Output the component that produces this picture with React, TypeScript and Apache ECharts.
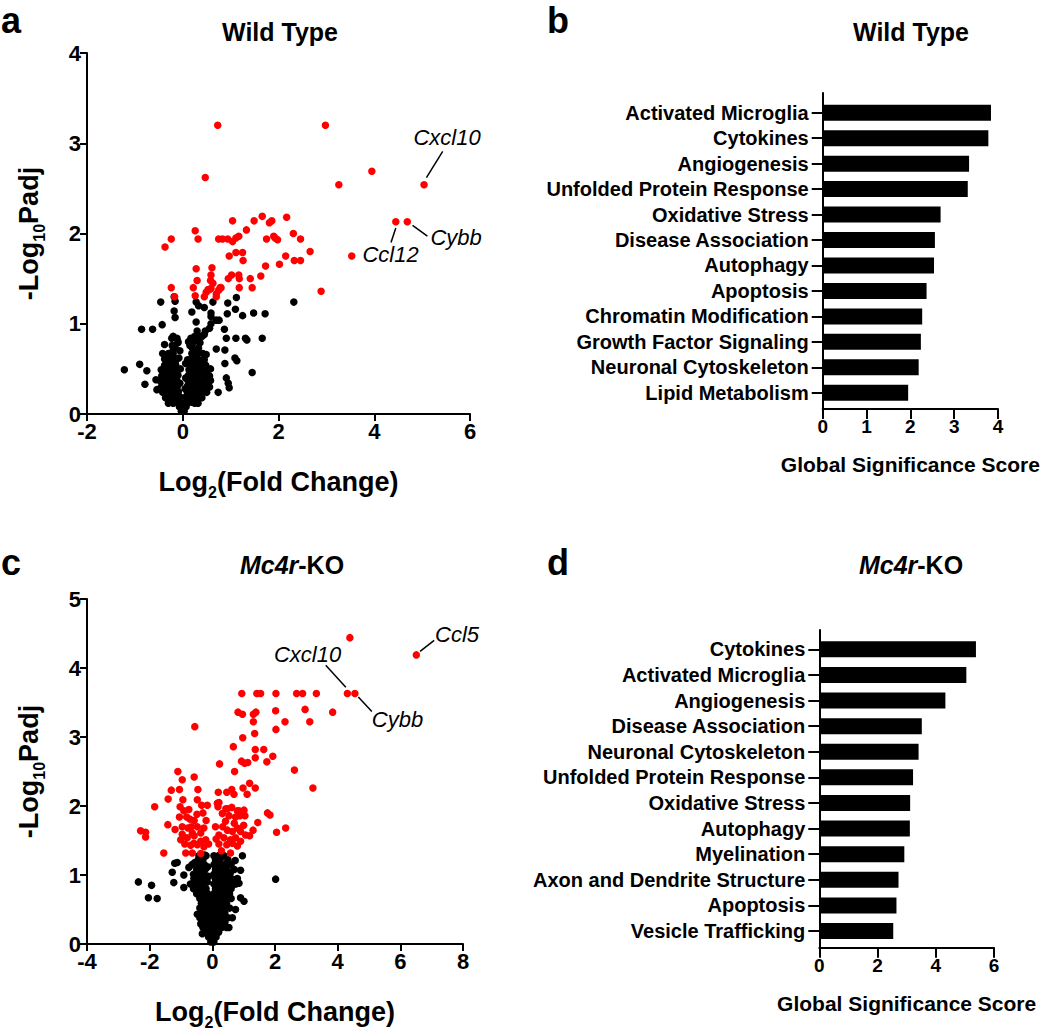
import React, { useEffect, useRef } from "react";
import * as echarts from "echarts";

const FONT = '"Liberation Sans", Arial, Helvetica, sans-serif';

// ---------- Panel a: Wild Type volcano ----------
const redA: number[][] = [
  [0.73, 3.2], [0.47, 2.62], [1.04, 2.14], [1.49, 2.14], [1.66, 2.19], [1.81, 2.12], [1.86, 2.14], [2.17, 2.18],
  [0.26, 2.03], [-0.24, 1.94], [-0.37, 1.85], [0.32, 1.94], [0.75, 1.94], [0.83, 1.94], [0.94, 1.94], [1.04, 1.91],
  [1.11, 1.95], [1.17, 1.97], [1.33, 2.04], [1.75, 1.94], [1.9, 1.97], [1.93, 1.95], [1.98, 1.93], [2.31, 2.0],
  [2.46, 1.94], [2.66, 1.8], [0.97, 1.75], [1.11, 1.79], [1.25, 1.79], [1.26, 1.7], [2.15, 1.75], [2.33, 1.7],
  [2.46, 1.7], [1.73, 1.64], [2.02, 1.66], [0.28, 1.61], [0.61, 1.62], [0.59, 1.54], [0.3, 1.48], [0.58, 1.48],
  [0.63, 1.45], [1.02, 1.54], [0.95, 1.5], [1.17, 1.54], [1.18, 1.5], [1.41, 1.5], [1.63, 1.53], [-0.24, 1.4],
  [0.22, 1.4], [0.53, 1.38], [0.59, 1.39], [0.49, 1.35], [0.8, 1.4], [0.75, 1.37], [0.7, 1.33], [1.18, 1.4],
  [1.45, 1.4], [0.26, 1.31], [0.45, 1.3], [2.89, 1.36], [-0.17, 1.3], [0.56, 1.38], [0.7, 1.3], [0.78, 1.4],
  [2.98, 3.2], [3.95, 2.69], [3.26, 2.54], [5.04, 2.54], [4.45, 2.13], [4.69, 2.13], [3.53, 1.75],
];
const blackA: number[][] = [
  [-1.22, 0.49], [-0.9, 0.55], [-0.75, 0.48], [-0.79, 0.33], [-0.86, 0.94], [-0.63, 0.94], [-0.43, 0.99], [-0.46, 1.24],
  [-0.18, 1.3], [-0.16, 1.25], [-0.18, 1.14], [-0.16, 1.07], [0.19, 1.13], [0.28, 1.24], [0.33, 1.2], [0.45, 1.18],
  [0.63, 1.24], [0.59, 1.12], [0.59, 1.08], [0.7, 1.04], [0.76, 1.04], [0.94, 1.23], [1.12, 1.29], [1.1, 1.16],
  [0.93, 1.11], [1.25, 1.09], [1.48, 1.12], [1.72, 1.11], [2.32, 1.24], [0.28, 1.02], [0.59, 1.0], [0.56, 0.95],
  [0.87, 0.94], [0.91, 0.84], [1.11, 0.84], [1.31, 0.84], [1.34, 0.82], [1.66, 0.84], [0.88, 0.71], [1.09, 0.62],
  [1.13, 0.59], [0.88, 0.56], [1.45, 0.46], [0.91, 0.4], [0.95, 0.34], [0.97, 0.29], [0.74, 0.24], [0.7, 0.72],
  [0.49, 0.66], [0.38, 0.86], [0.45, 0.88], [0.17, 0.84], [0.12, 0.8], [-0.23, 0.84], [-0.12, 0.84], [-0.1, 0.8],
  [-0.2, 0.71], [-0.38, 0.77], [-0.42, 0.67], [-0.38, 0.61], [-0.45, 0.49], [-0.56, 0.38], [-0.4, 0.38], [-0.34, 0.53],
  [-0.54, 0.27],
  // dense core
  [-0.03, 0.03], [0.03, 0.03], [-0.07, 0.08], [0.0, 0.08], [0.07, 0.08],
  [-0.12, 0.13], [-0.05, 0.13], [0.05, 0.13], [0.12, 0.13], [0.19, 0.13],
  [-0.2, 0.19], [-0.13, 0.19], [-0.06, 0.19], [0.07, 0.19], [0.14, 0.19], [0.22, 0.19],
  [-0.25, 0.25], [-0.17, 0.25], [-0.09, 0.25], [0.09, 0.25], [0.17, 0.25], [0.26, 0.25], [0.34, 0.25],
  [-0.3, 0.31], [-0.2, 0.31], [-0.11, 0.31], [0.1, 0.31], [0.2, 0.31], [0.3, 0.31], [0.4, 0.31],
  [-0.33, 0.37], [-0.22, 0.37], [-0.12, 0.37], [0.11, 0.37], [0.22, 0.37], [0.33, 0.37], [0.44, 0.37],
  [-0.3, 0.43], [-0.2, 0.43], [-0.1, 0.43], [0.12, 0.43], [0.23, 0.43], [0.34, 0.43], [0.46, 0.43],
  [-0.28, 0.49], [-0.18, 0.49], [0.13, 0.49], [0.25, 0.49], [0.37, 0.49],
  [-0.26, 0.55], [-0.15, 0.55], [0.15, 0.55], [0.27, 0.55], [0.4, 0.55],
  [-0.24, 0.61], [-0.13, 0.61], [0.17, 0.61], [0.29, 0.61],
  [-0.3, 0.67], [-0.2, 0.67], [0.19, 0.67], [0.31, 0.67], [0.42, 0.67],
  [-0.16, 0.73], [0.2, 0.73], [0.33, 0.73],
  [-0.1, 0.79], [0.22, 0.79], [0.36, 0.79],
  [-0.2, 0.86], [0.25, 0.86], [0.4, 0.86],
  [0.3, 0.92], [0.47, 0.92],
  [-0.16, 0.16], [0.1, 0.22], [-0.22, 0.28], [0.05, 0.28], [0.28, 0.28], [-0.16, 0.34], [0.16, 0.34], [0.36, 0.34],
  [-0.26, 0.4], [0.06, 0.4], [0.28, 0.4], [-0.14, 0.46], [0.18, 0.46], [0.42, 0.46], [-0.22, 0.52], [0.2, 0.52],
  [0.32, 0.52], [-0.18, 0.58], [0.22, 0.58], [0.34, 0.6], [-0.26, 0.64], [0.24, 0.64], [-0.22, 0.76], [0.28, 0.7],
  [0.15, 0.76], [0.3, 0.82], [-0.06, 0.7], [0.1, 0.6],
  [-0.3, 0.12], [-0.2, 0.12], [0.25, 0.12], [0.32, 0.12],
  [-0.36, 0.18], [-0.28, 0.18], [0.3, 0.18], [0.4, 0.18],
  [-0.42, 0.24], [-0.34, 0.24], [0.42, 0.24], [0.5, 0.24],
  [-0.45, 0.3], [-0.38, 0.3], [0.48, 0.3], [0.56, 0.3],
  [-0.46, 0.36], [-0.4, 0.35], [0.52, 0.36], [0.58, 0.37],
  [-0.44, 0.42], [-0.37, 0.44], [0.56, 0.42],
  [-0.42, 0.48], [0.5, 0.48], [0.58, 0.5],
  [-0.38, 0.54], [0.48, 0.54], [-0.34, 0.6], [0.45, 0.6],
  [-0.06, 0.34], [-0.05, 0.5], [0.06, 0.56], [-0.08, 0.62],
];
const annoLabelsA = [
  { name: "Cxcl10", value: [5.52, 3.06] },
  { name: "Ccl12", value: [4.34, 1.77] },
  { name: "Cybb", value: [5.71, 1.96] },
];
const annoLinesA: number[][][] = [
  [[5.43, 2.91], [5.09, 2.62]],
  [[4.45, 2.06], [4.35, 1.9]],
  [[4.8, 2.09], [5.11, 1.97]],
];

// ---------- Panel c: Mc4r-KO volcano ----------
const redC: number[][] = [
  [4.39, 4.44], [6.51, 4.19], [4.31, 3.63], [4.55, 3.63],
  [0.94, 3.63], [1.42, 3.63], [1.54, 3.63], [2.03, 3.63], [2.69, 3.63], [2.88, 3.63], [3.32, 3.63],
  [0.82, 3.36], [0.96, 3.33], [1.31, 3.33], [1.39, 3.36], [1.31, 3.22], [2.02, 3.38], [2.32, 3.22], [2.03, 3.11],
  [2.96, 3.4], [3.11, 3.22], [3.84, 3.36], [-0.56, 3.15], [1.35, 3.05], [0.97, 2.99], [0.67, 2.86], [1.37, 2.82],
  [1.64, 2.82], [1.37, 2.7], [1.93, 2.72], [1.74, 2.64], [0.93, 2.65], [1.03, 2.62], [1.13, 2.63], [0.23, 2.61],
  [0.71, 2.5], [2.62, 2.52], [-1.1, 2.5], [-0.96, 2.38], [-0.58, 2.42], [-1.31, 2.23], [-1.05, 2.24], [-0.46, 2.24],
  [-1.41, 2.1], [-0.94, 2.09], [-0.48, 2.09], [0.19, 2.2], [0.46, 2.2], [0.62, 2.24], [0.69, 2.17], [0.98, 2.26],
  [1.19, 2.33], [1.37, 2.26], [1.11, 2.17], [3.21, 2.26], [-1.84, 1.99], [-1.03, 1.99], [-0.91, 1.93], [-0.34, 2.01],
  [-0.16, 2.01], [0.21, 2.05], [0.18, 1.99], [0.48, 1.96], [0.62, 1.98], [0.85, 1.93], [1.01, 1.94], [1.76, 1.9],
  [1.84, 1.87], [2.05, 1.62], [2.34, 1.68],
  [-2.29, 1.64], [-2.13, 1.62], [-2.13, 1.55], [-1.55, 1.32], [-1.42, 1.73], [-1.19, 1.66],
  [-1.05, 1.84], [-0.82, 1.84], [-0.72, 1.81], [-0.49, 1.88], [-0.58, 1.79], [-0.75, 1.95], [-0.3, 1.9],
  [-0.96, 1.7], [-0.78, 1.68], [-0.67, 1.7], [-0.64, 1.61], [-0.96, 1.59], [-0.48, 1.7], [-0.37, 1.61], [-0.27, 1.68], [-0.2, 1.79],
  [-1.01, 1.51], [-0.8, 1.54], [-0.59, 1.46], [-0.37, 1.49], [-0.21, 1.51], [-0.88, 1.45], [-0.69, 1.43], [-0.48, 1.44], [-0.27, 1.41],
  [-0.85, 1.32], [-0.64, 1.32], [-0.37, 1.31], [-0.58, 1.57], [-0.12, 1.45],
  [0.16, 2.04], [0.43, 1.96], [0.8, 1.93], [1.04, 1.86], [0.32, 1.89], [0.53, 1.86], [0.74, 1.84], [0.88, 1.86],
  [1.45, 1.76], [0.33, 1.7], [0.48, 1.65], [0.64, 1.63], [0.8, 1.68], [0.9, 1.63], [1.06, 1.58], [1.19, 1.57],
  [0.21, 1.58], [0.37, 1.54], [0.58, 1.51], [0.74, 1.54], [0.9, 1.49], [0.21, 1.45], [0.46, 1.44], [0.64, 1.46], [0.8, 1.42],
  [0.29, 1.35], [0.58, 1.32], [0.1, 1.7], [0.12, 1.52], [1.0, 1.72], [0.42, 1.78], [0.7, 1.75], [1.3, 1.65],
];
const blackC: number[][] = [
  [-2.36, 0.9], [-1.94, 0.85], [-2.04, 0.67], [-1.76, 0.66], [2.02, 0.94],
  [-1.2, 1.17], [-1.12, 1.18], [-1.28, 1.04], [-1.23, 0.89], [-0.91, 0.82], [-0.91, 1.0], [-0.75, 1.11], [-0.56, 1.18],
  [-0.43, 1.28], [-0.59, 0.95], [-0.37, 0.9], [-0.53, 0.85], [-0.24, 1.29], [-0.21, 1.09], [-0.16, 0.9],
  [-0.37, 0.76], [-0.32, 0.62], [-0.48, 0.43], [-0.37, 0.29], [-0.32, 0.15],
  [0.21, 1.28], [0.37, 1.28], [0.48, 1.18], [0.73, 1.21], [0.96, 1.28], [0.9, 1.07], [0.8, 0.95], [0.85, 0.88],
  [0.58, 1.04], [0.64, 0.85], [0.9, 0.67], [1.01, 0.62], [0.74, 0.5], [0.64, 0.38], [0.53, 0.24],
  // dense core
  [-0.05, 0.03], [0.05, 0.03], [-0.12, 0.1], [0.0, 0.1], [0.12, 0.1],
  [-0.2, 0.17], [-0.07, 0.17], [0.07, 0.17], [0.2, 0.17],
  [-0.3, 0.24], [-0.15, 0.24], [0.0, 0.24], [0.15, 0.24], [0.3, 0.24], [0.45, 0.24],
  [-0.35, 0.31], [-0.2, 0.31], [-0.05, 0.31], [0.1, 0.31], [0.25, 0.31], [0.4, 0.31],
  [-0.4, 0.38], [-0.25, 0.38], [-0.1, 0.38], [0.05, 0.38], [0.2, 0.38], [0.35, 0.38], [0.5, 0.38],
  [-0.35, 0.45], [-0.2, 0.45], [-0.05, 0.45], [0.1, 0.45], [0.25, 0.45], [0.4, 0.45],
  [-0.4, 0.52], [-0.25, 0.52], [-0.1, 0.52], [0.05, 0.52], [0.2, 0.52], [0.35, 0.52], [0.55, 0.52],
  [-0.35, 0.59], [-0.2, 0.59], [-0.05, 0.59], [0.1, 0.59], [0.25, 0.59], [0.45, 0.59],
  [-0.4, 0.66], [-0.25, 0.66], [-0.1, 0.66], [0.1, 0.66], [0.25, 0.66], [0.4, 0.66], [0.6, 0.66],
  [-0.5, 0.73], [-0.3, 0.73], [-0.15, 0.73], [0.05, 0.73], [0.2, 0.73], [0.35, 0.73], [0.55, 0.73],
  [-0.6, 0.8], [-0.4, 0.8], [-0.2, 0.8], [0.1, 0.8], [0.25, 0.8], [0.4, 0.8], [0.6, 0.8],
  [-0.7, 0.87], [-0.45, 0.87], [-0.3, 0.87], [0.05, 0.87], [0.2, 0.87], [0.35, 0.87], [0.55, 0.87], [0.75, 0.87],
  [-0.55, 0.94], [-0.35, 0.94], [-0.2, 0.94], [0.1, 0.94], [0.25, 0.94], [0.45, 0.94], [0.65, 0.94],
  [-0.6, 1.01], [-0.4, 1.01], [-0.25, 1.01], [0.05, 1.01], [0.2, 1.01], [0.35, 1.01], [0.55, 1.01],
  [-0.5, 1.08], [-0.3, 1.08], [0.1, 1.08], [0.25, 1.08], [0.45, 1.08], [0.7, 1.08],
  [-0.65, 1.15], [-0.4, 1.15], [-0.25, 1.15], [0.05, 1.15], [0.2, 1.15], [0.4, 1.15], [0.6, 1.15],
  [-0.45, 1.22], [-0.3, 1.22], [0.1, 1.22], [0.25, 1.22], [0.5, 1.22],
  [-0.35, 1.28], [-0.2, 1.28], [0.05, 1.28], [0.2, 1.28], [0.35, 1.28],
  [-0.28, 0.84], [0.3, 0.91], [-0.45, 1.05], [0.15, 1.05], [-0.12, 0.98], [0.5, 0.98], [-0.5, 0.98], [0.3, 1.12],
  [-0.15, 1.12], [0.15, 1.18], [-0.38, 0.7], [0.32, 0.77], [-0.22, 0.48], [0.3, 0.56], [0.15, 0.42], [-0.28, 0.35],
];
const annoLabelsC = [
  { name: "Ccl5", value: [7.81, 4.49] },
  { name: "Cxcl10", value: [3.04, 4.2] },
  { name: "Cybb", value: [5.91, 3.25] },
];
const annoLinesC: number[][][] = [
  [[7.08, 4.4], [6.63, 4.24]],
  [[3.62, 4.04], [4.26, 3.72]],
  [[4.66, 3.58], [5.09, 3.37]],
];

// ---------- Panel b / d: bar charts ----------
const catsB = [
  "Activated Microglia", "Cytokines", "Angiogenesis", "Unfolded Protein Response", "Oxidative Stress",
  "Disease Association", "Autophagy", "Apoptosis", "Chromatin Modification", "Growth Factor Signaling",
  "Neuronal Cytoskeleton", "Lipid Metabolism",
];
const valsB = [3.84, 3.78, 3.34, 3.31, 2.69, 2.56, 2.54, 2.37, 2.27, 2.24, 2.19, 1.95];
const catsD = [
  "Cytokines", "Activated Microglia", "Angiogenesis", "Disease Association", "Neuronal Cytoskeleton",
  "Unfolded Protein Response", "Oxidative Stress", "Autophagy", "Myelination", "Axon and Dendrite Structure",
  "Apoptosis", "Vesicle Trafficking",
];
const valsD = [5.38, 5.05, 4.33, 3.52, 3.41, 3.22, 3.12, 3.11, 2.92, 2.72, 2.65, 2.54];

const AXIS_LINE = { show: true, onZero: false, lineStyle: { color: "#000", width: 2 } };
const AXIS_TICK = { show: true, inside: false, length: 7, lineStyle: { color: "#000", width: 2 } };
const SUB_RICH = { s: { fontSize: 16, fontWeight: "bold", fontFamily: FONT, color: "#000", verticalAlign: "bottom", lineHeight: 36 } };

function scatterX(grid: number, min: number, max: number) {
  return {
    gridIndex: grid, type: "value", min, max, interval: 2,
    axisLine: AXIS_LINE, axisTick: AXIS_TICK, splitLine: { show: false },
    axisLabel: { color: "#000", fontSize: 22, fontWeight: "bold", fontFamily: FONT, margin: 6 },
    name: "Log{s|2}(Fold Change)", nameLocation: "middle", nameGap: 50,
    nameTextStyle: { color: "#000", fontSize: 27, fontWeight: "bold", fontFamily: FONT, rich: SUB_RICH },
  };
}
function scatterY(grid: number, max: number) {
  return {
    gridIndex: grid, type: "value", min: 0, max, interval: 1,
    axisLine: AXIS_LINE, axisTick: AXIS_TICK, splitLine: { show: false },
    axisLabel: { color: "#000", fontSize: 22, fontWeight: "bold", fontFamily: FONT, margin: 6 },
    name: "-Log{s|10}Padj", nameLocation: "middle", nameGap: 40, nameRotate: 90,
    nameTextStyle: { color: "#000", fontSize: 27, fontWeight: "bold", fontFamily: FONT, rich: SUB_RICH },
  };
}
function barFrameX(grid: number, max: number, interval: number) {
  return {
    gridIndex: grid, type: "value", min: 0, max, interval,
    axisLine: AXIS_LINE, axisTick: { show: true, length: 10, lineStyle: { color: "#000", width: 2 } },
    splitLine: { show: false },
    axisLabel: { color: "#000", fontSize: 19, fontWeight: "bold", fontFamily: FONT, margin: 8 },
    name: "Global Significance Score", nameLocation: "middle", nameGap: 45,
    nameTextStyle: { color: "#000", fontSize: 21, fontWeight: "bold", fontFamily: FONT },
  };
}
function hiddenX(grid: number, max: number) {
  return { gridIndex: grid, type: "value", min: 0, max, show: false, splitLine: { show: false } };
}
function frameY(grid: number) {
  return {
    gridIndex: grid, type: "value", min: 0, max: 1,
    axisLine: AXIS_LINE, axisTick: { show: false }, axisLabel: { show: false }, splitLine: { show: false },
  };
}
function catY(grid: number, cats: string[]) {
  return {
    gridIndex: grid, type: "category", data: cats, inverse: true,
    axisLine: { show: false },
    axisTick: { show: true, alignWithLabel: true, interval: 0, length: 11, lineStyle: { color: "#000", width: 2 } },
    axisLabel: { color: "#000", fontSize: 20, fontWeight: "bold", fontFamily: FONT, margin: 14, interval: 0 },
    splitLine: { show: false },
  };
}

export default function App() {
  const ref = useRef<HTMLDivElement>(null);
  useEffect(() => {
    document.body.style.margin = "0";
    if (!ref.current) return;
    const chart = echarts.init(ref.current, undefined, { renderer: "svg" });
    const dot = (data: number[][], color: string, xi: number, yi: number, z: number) => ({
      type: "scatter", xAxisIndex: xi, yAxisIndex: yi, data, symbolSize: 7.5, z,
      itemStyle: { color, opacity: 1 }, silent: true,
    });
    const labels = (data: any[], xi: number, yi: number) => ({
      type: "scatter", xAxisIndex: xi, yAxisIndex: yi, data, symbolSize: 2, z: 6,
      itemStyle: { color: "rgba(0,0,0,0)" },
      label: {
        show: true, position: "inside", formatter: "{b}", color: "#000", opacity: 1,
        fontSize: 22, fontStyle: "italic", fontFamily: FONT, textBorderWidth: 0,
      },
      silent: true,
    });
    const connectors = (lines: number[][][], xi: number, yi: number) => ({
      type: "lines", coordinateSystem: "cartesian2d", xAxisIndex: xi, yAxisIndex: yi,
      data: lines.map((c) => ({ coords: c })),
      lineStyle: { color: "#000", width: 1.5, opacity: 1, curveness: 0 }, symbol: "none", z: 5,
    });
    const bars = (vals: number[], xi: number, yi: number) => ({
      type: "bar", xAxisIndex: xi, yAxisIndex: yi, data: vals, barWidth: 16,
      itemStyle: { color: "#000" }, silent: true,
    });
    const txt = (x: number, y: number, text: string, size: number, align = "center", rich?: any) => ({
      type: "text", x, y,
      style: {
        text, fill: "#000", fontSize: size, fontWeight: "bold", fontFamily: FONT,
        align, verticalAlign: "middle", rich,
      },
    });
    const italicRich = { i: { fontStyle: "italic", fontWeight: "bold", fontSize: 25, fontFamily: FONT, fill: "#000", color: "#000" } };

    chart.setOption({
      animation: false,
      backgroundColor: "#fff",
      grid: [
        { left: 87, top: 53, width: 383, height: 361 },
        { left: 87, top: 599, width: 376, height: 355 },
        { left: 822.7, top: 93, width: 175.3, height: 316 },
        { left: 822.7, top: 100, width: 175.3, height: 305.5 },
        { left: 819.3, top: 630, width: 174.7, height: 317.7 },
        { left: 819.3, top: 636.5, width: 174.7, height: 307.3 },
      ],
      xAxis: [
        scatterX(0, -2, 6),
        scatterX(1, -4, 8),
        barFrameX(2, 4, 1),
        hiddenX(3, 4),
        barFrameX(4, 6, 2),
        hiddenX(5, 6),
      ],
      yAxis: [
        scatterY(0, 4),
        scatterY(1, 5),
        frameY(2),
        catY(3, catsB),
        frameY(4),
        catY(5, catsD),
      ],
      series: [
        dot(blackA, "#000000", 0, 0, 2),
        dot(redA, "#ff0000", 0, 0, 3),
        connectors(annoLinesA, 0, 0),
        labels(annoLabelsA, 0, 0),
        dot(blackC, "#000000", 1, 1, 2),
        dot(redC, "#ff0000", 1, 1, 3),
        connectors(annoLinesC, 1, 1),
        labels(annoLabelsC, 1, 1),
        bars(valsB, 3, 3),
        bars(valsD, 5, 5),
      ],
      graphic: [
        txt(1, 20, "a", 36, "left"),
        txt(547, 20, "b", 36, "left"),
        txt(1, 562, "c", 36, "left"),
        txt(547, 562, "d", 36, "left"),
        txt(280, 32, "Wild Type", 25),
        txt(911, 32, "Wild Type", 25),
        txt(292, 565, "{i|Mc4r}-KO", 25, "center", italicRich),
        txt(911, 565, "{i|Mc4r}-KO", 25, "center", italicRich),
      ],
    });
    return () => chart.dispose();
  }, []);
  return <div ref={ref} style={{ width: 1050, height: 1031 }} />;
}
